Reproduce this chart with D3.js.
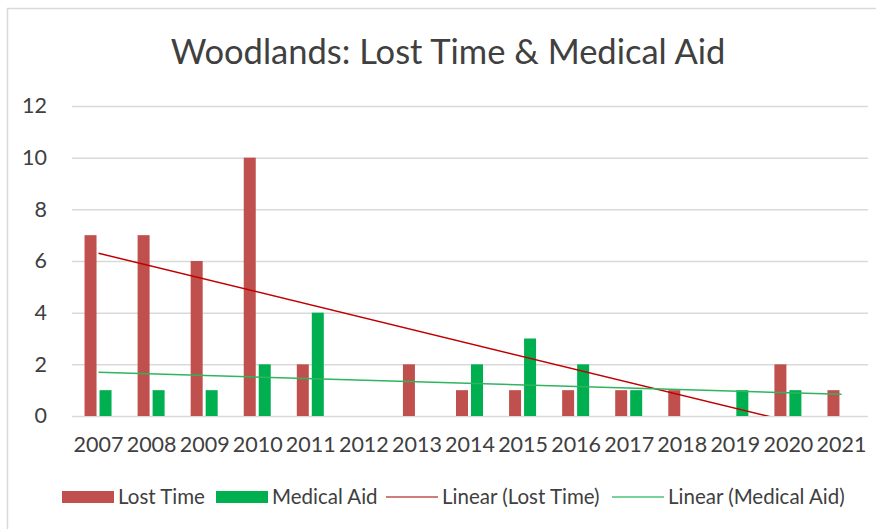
<!DOCTYPE html>
<html><head><meta charset="utf-8">
<script src="https://cdn.jsdelivr.net/npm/d3@7"></script>
<style>body{margin:0;background:#fff}svg{display:block}text{font-family:Lato,"Open Sans",sans-serif;fill:#404040}</style>
</head><body><svg id="c" width="876" height="529"></svg>
<script>
const categories = ["2007","2008","2009","2010","2011","2012","2013","2014","2015","2016","2017","2018","2019","2020","2021"];
const lostTime = [7,7,6,10,2,0,2,1,1,1,1,1,0,2,1];
const medicalAid = [1,1,1,2,4,0,0,2,3,2,1,0,1,1,0];
const yTicks = [0,2,4,6,8,10,12];
const seriesNames = ["Lost Time","Medical Aid"];
const title = "Woodlands: Lost Time & Medical Aid";

const svg = d3.select("#c");
const W = 876, H = 529;
const m = {l:72, r:868, t:106, b:416};
const colors = {lost:"#c0504d", med:"#00b050", lostTrend:"#c00000", medTrend:"#2fb55f"};

svg.append("rect").attr("x",7.5).attr("y",8.5).attr("width",W).attr("height",H).attr("fill","#fff").attr("stroke","#d9d9d9").attr("stroke-width",1.5);

svg.append("text").attr("x",448).attr("y",64).attr("text-anchor","middle").style("font-size","34.5px").text(title);

const x0 = d3.scaleBand().domain(categories).range([m.l, m.r]);
const y = d3.scaleLinear().domain([0,12]).range([m.b, m.t]);
const grpW = 27;
const x1 = d3.scaleBand().domain(["lost","med"]).range([0, grpW]).paddingInner(0.2);
const off = (x0.bandwidth() - grpW)/2 - 0.5;

// gridlines
const gy = svg.append("g").attr("transform",`translate(${m.l},0)`)
  .call(d3.axisLeft(y).tickValues(yTicks).tickSize(-(m.r-m.l)).tickPadding(25).tickFormat(d3.format("d")));
gy.select(".domain").remove();
gy.selectAll(".tick line").attr("stroke","#d9d9d9").attr("stroke-width",1.5);
gy.selectAll(".tick text").style("font-size","21.5px").attr("fill","#404040").attr("text-anchor","end").attr("x",-25);

const gx = svg.append("g").attr("transform",`translate(0,${m.b})`)
  .call(d3.axisBottom(x0).tickSize(0).tickPadding(21));
gx.select(".domain").remove();
gx.selectAll(".tick text").style("font-size","21.5px").attr("fill","#404040");

// bars
const data = categories.map((c,i)=>({c, lost:lostTime[i], med:medicalAid[i]}));
const bars = svg.append("g");
data.forEach(d=>{
  ["lost","med"].forEach(k=>{
    if (d[k] <= 0) return;
    bars.append("rect")
      .attr("x", x0(d.c)+off+x1(k)).attr("width", x1.bandwidth())
      .attr("y", y(d[k])).attr("height", y(0)-y(d[k]))
      .attr("fill", colors[k]);
  });
});

// linear trends (least squares on category index)
function linfit(vals){
  const xs = vals.map((_,i)=>i+1);
  const mx = d3.mean(xs), my = d3.mean(vals);
  let sxy=0, sxx=0;
  xs.forEach((xv,i)=>{sxy+=(xv-mx)*(vals[i]-my); sxx+=(xv-mx)*(xv-mx);});
  const b = sxy/sxx, a = my - b*mx;
  return xv => a + b*xv;
}
svg.append("clipPath").attr("id","pc").append("rect").attr("x",m.l).attr("y",m.t-20).attr("width",m.r-m.l).attr("height",m.b-m.t+20);
const xc = i => x0(categories[i]) + x0.bandwidth()/2;
[[lostTime, colors.lostTrend],[medicalAid, colors.medTrend]].forEach(([vals,col])=>{
  const f = linfit(vals);
  const pts = [0, vals.length-1].map(i=>[xc(i), y(f(i+1))]);
  svg.append("path").attr("d", d3.line()(pts)).attr("stroke",col).attr("stroke-width",1.5).attr("fill","none").attr("clip-path","url(#pc)");
});

// legend
const leg = svg.append("g");
const ly = 497;
const items = [
  {type:"rect", col:colors.lost, label:seriesNames[0], x:62},
  {type:"rect", col:colors.med, label:seriesNames[1], x:216},
  {type:"line", col:"#c0504d", label:"Linear (Lost Time)", x:386},
  {type:"line", col:"#4cc27a", label:"Linear (Medical Aid)", x:612}
];
items.forEach(it=>{
  if (it.type==="rect") leg.append("rect").attr("x",it.x).attr("y",ly-6).attr("width",52).attr("height",12).attr("fill",it.col);
  else leg.append("line").attr("x1",it.x).attr("x2",it.x+52).attr("y1",ly).attr("y2",ly).attr("stroke",it.col).attr("stroke-width",1.5);
  leg.append("text").attr("x",it.x+56).attr("y",ly).attr("dy","0.35em").style("font-size","20.5px").text(it.label);
});
</script></body></html>
